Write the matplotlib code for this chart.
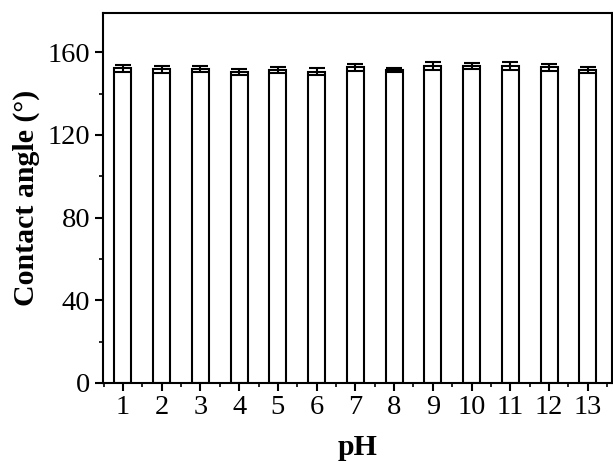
import matplotlib
matplotlib.use("Agg")
import matplotlib.pyplot as plt
from matplotlib.ticker import MultipleLocator

ph = [1, 2, 3, 4, 5, 6, 7, 8, 9, 10, 11, 12, 13]
angle = [152.2, 151.7, 151.7, 150.5, 151.3, 150.5, 152.7, 151.3, 153.4, 153.4, 153.4, 152.7, 151.3]
err = [1.6, 1.6, 1.5, 1.5, 1.4, 1.7, 1.7, 1.0, 1.8, 1.5, 1.8, 1.6, 1.5]

plt.rcParams['font.family'] = ['Liberation Serif', 'DejaVu Serif']

fig = plt.figure(figsize=(6.13, 4.62), dpi=100)
ax = fig.add_axes([0.168, 0.171, 0.830, 0.801])

ax.bar(ph, angle, width=0.44, color='white', edgecolor='black', linewidth=1.5,
       yerr=err, capsize=5.5, error_kw=dict(elinewidth=1.5, capthick=1.5, ecolor='black'), zorder=2)

ax.set_xlim(0.484, 13.62)
ax.set_ylim(0, 179)
ax.set_xticks(ph)
ax.set_yticks([0, 40, 80, 120, 160])
ax.yaxis.set_minor_locator(MultipleLocator(20))
ax.xaxis.set_minor_locator(MultipleLocator(0.5))
ax.tick_params(axis='both', which='major', direction='out', length=6, width=1.5, labelsize=20.5, pad=3)
ax.tick_params(axis='both', which='minor', direction='out', length=3, width=1.2)
ax.tick_params(top=False, right=False, which='both')
for s in ax.spines.values():
    s.set_linewidth(1.5)

ax.set_xlabel('pH', fontsize=21.5, fontweight='bold', labelpad=10)
ax.set_ylabel('Contact angle (°)', fontsize=21.5, fontweight='bold', labelpad=6)

fig.savefig('out.png', dpi=100)
